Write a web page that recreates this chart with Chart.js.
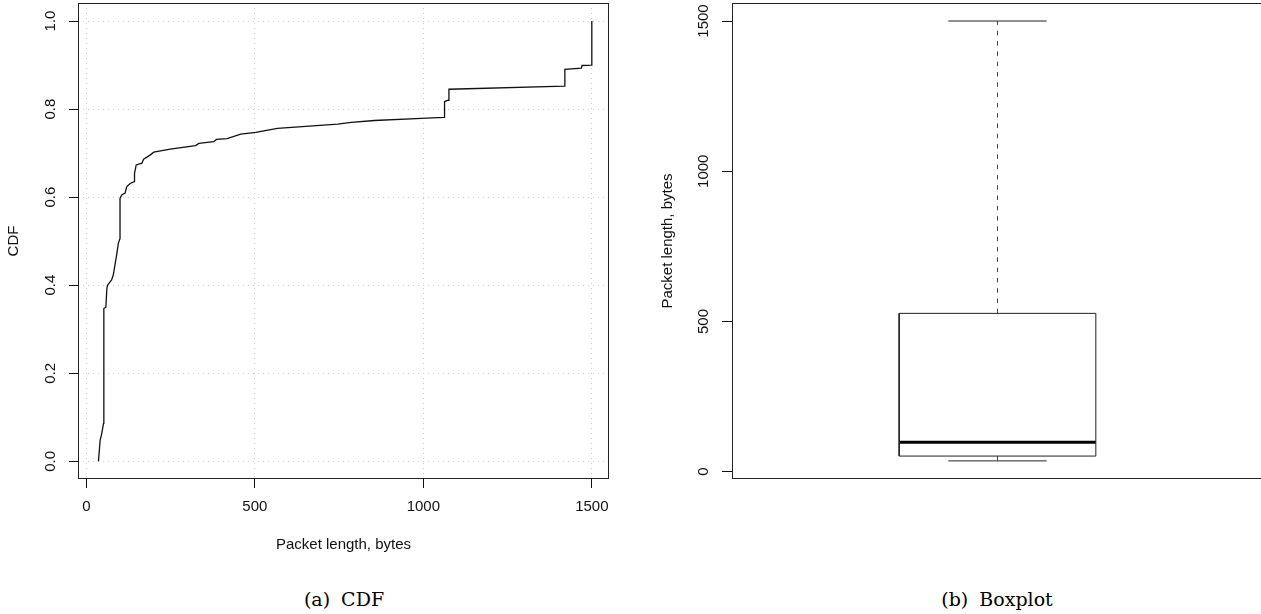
<!DOCTYPE html>
<html>
<head>
<meta charset="utf-8">
<script src="https://cdn.jsdelivr.net/npm/chart.js@4/dist/chart.umd.min.js"></script>
<style>
  html, body { margin: 0; padding: 0; background: #fff; }
  body { width: 1261px; height: 614px; overflow: hidden; position: relative; }
  canvas { position: absolute; top: 0; }
  .cap { position: absolute; top: 587px; width: 240px; height: 24px; line-height: 24px;
         text-align: center; font-family: "DejaVu Serif", serif; font-size: 19px; color: #000;
         word-spacing: 5px; white-space: nowrap; }
</style>
</head>
<body>
<canvas id="cdf" width="630" height="560" style="left:0px"></canvas>
<canvas id="box" width="630" height="560" style="left:640px"></canvas>
<div class="cap" style="left:224px">(a) CDF</div>
<div class="cap" style="left:877px">(b) Boxplot</div>
<script>
// ---------- data ----------
const pktLen = [36, 41, 45, 51, 52, 58, 61, 63, 75, 80, 85, 90, 95, 100, 100, 105, 115, 120, 130, 142, 143, 148,
  165, 170, 190, 200, 249, 324, 334, 378, 386, 418, 458, 503, 567, 746, 786, 855, 994, 1062, 1063, 1074, 1076,
  1419, 1420, 1469, 1471, 1499, 1500];
const cdfVal = [0, 0.048, 0.06, 0.086, 0.347, 0.35, 0.393, 0.40, 0.412, 0.423, 0.446, 0.469, 0.495, 0.506, 0.597,
  0.605, 0.609, 0.624, 0.631, 0.635, 0.654, 0.673, 0.677, 0.686, 0.696, 0.702, 0.709, 0.717, 0.722, 0.726, 0.731,
  0.733, 0.743, 0.747, 0.756, 0.766, 0.77, 0.774, 0.779, 0.781, 0.817, 0.82, 0.845, 0.852, 0.89, 0.893, 0.899,
  0.9, 1.0];
const cdfXTicks = [0, 500, 1000, 1500];
const cdfYTicks = [0, 0.2, 0.4, 0.6, 0.8, 1.0];

const boxLabels = ['min', 'q1', 'median', 'q3', 'max'];
const boxValues = [36, 52, 98, 527, 1500];
const boxYTicks = [0, 500, 1000, 1500];

// ---------- common ----------
Chart.defaults.font.family = '"Liberation Sans", Arial, sans-serif';
Chart.defaults.font.size = 15;
Chart.defaults.color = '#111';

const framePlugin = {
  id: 'frame',
  afterDraw(chart) {
    const a = chart.chartArea, ctx = chart.ctx;
    ctx.save();
    ctx.strokeStyle = '#222';
    ctx.lineWidth = 1;
    const l = Math.round(a.left) + 0.5, t = Math.round(a.top) + 0.5;
    const r = Math.round(a.right) - 0.5, b = Math.round(a.bottom) - 0.5;
    ctx.strokeRect(l, t, r - l, b - t);
    ctx.restore();
  }
};

const setTicks = arr => s => { s.ticks = arr.map(v => ({ value: v })); };

// ---------- CDF chart ----------
new Chart(document.getElementById('cdf'), {
  type: 'line',
  data: {
    datasets: [{
      data: pktLen.map((x, i) => ({ x: x, y: cdfVal[i] })),
      borderColor: '#111',
      borderWidth: 1.3,
      pointRadius: 0,
      tension: 0,
      fill: false
    }]
  },
  options: {
    responsive: false,
    animation: false,
    events: [],
    layout: { padding: { left: 0, top: 3, right: 21, bottom: 0 } },
    plugins: { legend: { display: false }, tooltip: { enabled: false } },
    scales: {
      x: {
        type: 'linear',
        min: -24.7, max: 1551,
        afterBuildTicks: setTicks(cdfXTicks),
        afterFit: s => { s.height = 81; s.paddingLeft = 0; s.paddingRight = 0; },
        grid: { color: '#cfcfcf', lineWidth: 1, tickLength: 9, tickColor: '#111', tickBorderDash: [] },
        border: { display: false, dash: [1, 4] },
        ticks: { padding: 10, maxRotation: 0, minRotation: 0, callback: v => String(v) },
        title: { display: true, text: 'Packet length, bytes', padding: { top: 0, bottom: 6 } }
      },
      y: {
        type: 'linear',
        min: -0.0402, max: 1.0409,
        afterBuildTicks: setTicks(cdfYTicks),
        afterFit: s => { s.width = 78; s.paddingTop = 0; s.paddingBottom = 0; },
        grid: { color: '#cfcfcf', lineWidth: 1, tickLength: 9, tickColor: '#111', tickBorderDash: [] },
        border: { display: false, dash: [1, 4] },
        ticks: { padding: 8, minRotation: 90, maxRotation: 90, crossAlign: 'center',
                 callback: v => Number(v).toFixed(1) },
        title: { display: true, text: 'CDF', padding: { top: 5, bottom: 0 } }
      }
    }
  },
  plugins: [framePlugin]
});

// ---------- Boxplot chart ----------
const val = name => boxValues[boxLabels.indexOf(name)];
const CENTER = 1, BOX_HALF = 0.2, CAP_HALF = 0.1;
const lineDs = (pts, opts) => Object.assign({
  data: pts, borderColor: '#222', borderWidth: 1, pointRadius: 0, tension: 0, fill: false,
  borderCapStyle: 'butt'
}, opts || {});

new Chart(document.getElementById('box'), {
  type: 'line',
  data: {
    datasets: [
      // box
      lineDs([
        { x: CENTER - BOX_HALF, y: val('q1') }, { x: CENTER + BOX_HALF, y: val('q1') },
        { x: CENTER + BOX_HALF, y: val('q3') }, { x: CENTER - BOX_HALF, y: val('q3') },
        { x: CENTER - BOX_HALF, y: val('q1') }
      ]),
      // median
      lineDs([{ x: CENTER - BOX_HALF, y: val('median') }, { x: CENTER + BOX_HALF, y: val('median') }],
             { borderWidth: 3, borderColor: '#000' }),
      // upper whisker
      lineDs([{ x: CENTER, y: val('q3') }, { x: CENTER, y: val('max') }],
             { borderDash: [4.5, 5.8], borderColor: '#444' }),
      // lower whisker
      lineDs([{ x: CENTER, y: val('q1') }, { x: CENTER, y: val('min') }],
             { borderDash: [4.5, 5.8], borderColor: '#444' }),
      // caps
      lineDs([{ x: CENTER - CAP_HALF, y: val('max') }, { x: CENTER + CAP_HALF, y: val('max') }]),
      lineDs([{ x: CENTER - CAP_HALF, y: val('min') }, { x: CENTER + CAP_HALF, y: val('min') }])
    ]
  },
  options: {
    responsive: false,
    animation: false,
    events: [],
    layout: { padding: { left: 0, top: 3, right: 7, bottom: 81 } },
    plugins: { legend: { display: false }, tooltip: { enabled: false } },
    scales: {
      x: { type: 'linear', min: 0.46, max: 1.54, display: false },
      y: {
        type: 'linear',
        min: -24.3, max: 1560,
        afterBuildTicks: setTicks(boxYTicks),
        afterFit: s => { s.width = 92; s.paddingTop = 0; s.paddingBottom = 0; },
        grid: { drawOnChartArea: false, drawTicks: true, tickLength: 10, tickColor: '#111', tickBorderDash: [] },
        border: { display: false },
        ticks: { padding: 1, minRotation: 90, maxRotation: 90, crossAlign: 'center',
                 callback: v => String(v) },
        title: { display: true, text: 'Packet length, bytes', padding: { top: 19, bottom: 0 } }
      }
    }
  },
  plugins: [framePlugin]
});
</script>
</body>
</html>
